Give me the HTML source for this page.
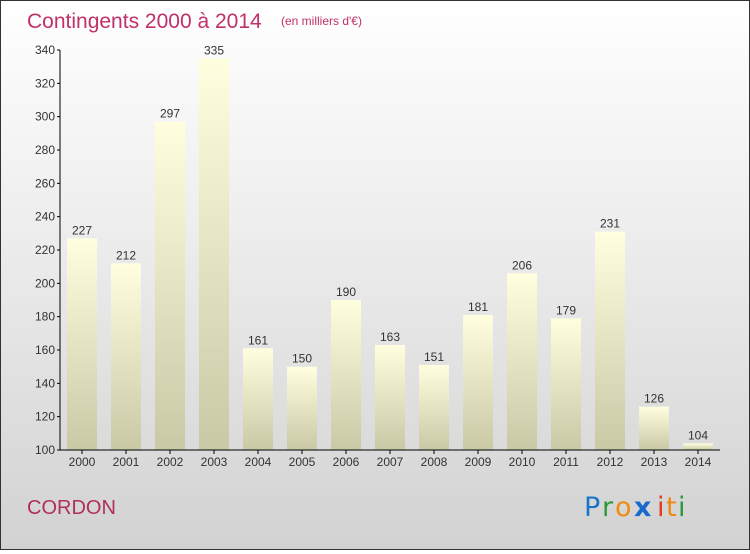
<!DOCTYPE html>
<html><head><meta charset="utf-8"><style>
body{margin:0;width:750px;height:550px;overflow:hidden;font-family:"Liberation Sans","DejaVu Sans",sans-serif}
#wrap{position:absolute;left:0;top:0;width:748px;height:548px;border:1px solid #333;background:linear-gradient(#ffffff 0%,#eeeeee 40%,#d2d2d2 100%)}
</style></head><body>
<div id="wrap">
<svg width="748" height="548" xmlns="http://www.w3.org/2000/svg">
<defs><linearGradient id="bg" x1="0" y1="0" x2="0" y2="1"><stop offset="0" stop-color="#ffffe0"/><stop offset="1" stop-color="#c9c9a6"/></linearGradient></defs>
<text x="26" y="27" font-size="21" fill="#c0306a">Contingents 2000 à 2014</text>
<text x="280" y="24" font-size="12" fill="#c0306a">(en milliers d'€)</text>
<g id="plot"></g>
<text x="26" y="513" font-size="20" fill="#b0305a">CORDON</text>
<g font-size="27" font-family="DejaVu Sans, sans-serif">
<text x="583" y="515" fill="#1a75c9">P</text><text x="601" y="515" fill="#2a9a3a">r</text><text x="614" y="515" fill="#f08a10">o</text><text x="633" y="515" fill="#1a6acc" font-weight="bold">x</text><text x="656" y="515" fill="#e03a20">i</text><text x="665" y="515" fill="#f08a10">t</text><text x="677" y="515" fill="#2a9a3a">i</text></g>
</svg></div>
<script>
const years=["2000","2001","2002","2003","2004","2005","2006","2007","2008","2009","2010","2011","2012","2013","2014"];
const values=[227,212,297,335,161,150,190,163,151,181,206,179,231,126,104];
const ticks=[100,120,140,160,180,200,220,240,260,280,300,320,340];
const NS="http://www.w3.org/2000/svg";
const g=document.getElementById('plot');
const x0=59,band=44,yMin=100,yMax=340,py0=449,py1=49;
const y=v=>py0-(v-yMin)/(yMax-yMin)*(py0-py1);
function mk(t,a,txt){const e=document.createElementNS(NS,t);for(const k in a)e.setAttribute(k,a[k]);if(txt!=null)e.textContent=txt;g.appendChild(e);return e;}
values.forEach((v,i)=>{const cx=x0+band*i+band/2;
const r=mk('rect',{x:cx-15,y:y(v),width:30,height:py0-y(v),fill:'url(#bg)'});


const t=mk('text',{x:cx,y:y(v)-4,'font-size':12,'text-anchor':'middle',fill:'#333'},String(v));


const l=mk('text',{x:cx,y:py0+16,'font-size':12,'text-anchor':'middle',fill:'#333'},years[i]);


mk('line',{x1:cx,x2:cx,y1:py0,y2:py0+4,stroke:'#000'});
});
ticks.forEach(v=>{const t=mk('text',{x:x0-5,y:y(v)+4,'font-size':12,'text-anchor':'end',fill:'#333'},String(v));


mk('line',{x1:x0-3,x2:x0,y1:y(v),y2:y(v),stroke:'#000'});});
const ya=mk('line',{x1:x0,x2:x0,y1:py1,y2:py0,stroke:'#000'});


const xa=mk('line',{x1:x0,x2:x0+band*15,y1:py0,y2:py0,stroke:'#000'});


</script>
</body></html>
